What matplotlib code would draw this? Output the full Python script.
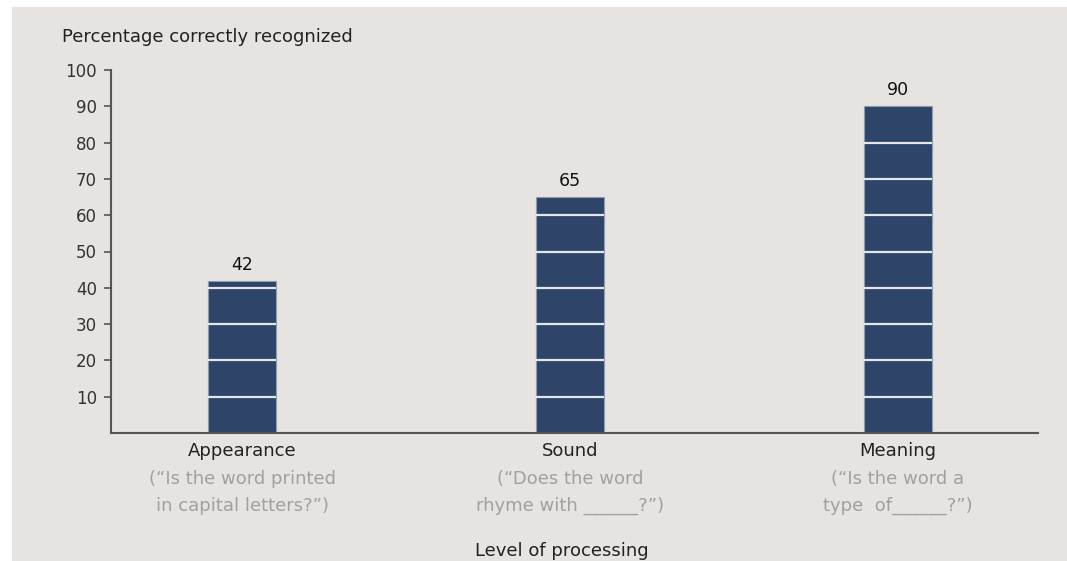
import matplotlib
matplotlib.use("Agg")
import matplotlib.pyplot as plt
import matplotlib.transforms as mtransforms
from matplotlib.patches import Rectangle

categories = ["Appearance", "Sound", "Meaning"]
values = [42, 65, 90]
sub_line1 = ["(\u201cIs the word printed", "(\u201cDoes the word", "(\u201cIs the word a"]
sub_line2 = ["in capital letters?\u201d)", "rhyme with ______?\u201d)", "type  of______?\u201d)"]
yticks = [10, 20, 30, 40, 50, 60, 70, 80, 90, 100]
y_label = "Percentage correctly recognized"
x_label = "Level of processing"

BG = "#e7e3e0"
BAR = "#2e4569"
W, H = 1067, 561
FS = 13

plt.rcParams['font.family'] = ['DejaVu Sans']
fig = plt.figure(figsize=(W / 100, H / 100), dpi=100)
fig.patch.set_facecolor("white")
fig.add_artist(Rectangle((12 / W, 0), 1 - 12 / W, 1 - 7 / H, transform=fig.transFigure,
                         facecolor=BG, edgecolor="none", zorder=0))

ax = fig.add_axes([111 / W, 1 - 433 / H, (1038 - 111) / W, (433 - 70) / H])
ax.set_facecolor("none")
x = list(range(len(categories)))
bw = 0.207
ax.bar(x, values, width=bw, color=BAR, edgecolor="#8d99ad", linewidth=0.8, zorder=2)
for xi, v in zip(x, values):
    lv = [t for t in yticks if t < v]
    ax.hlines(lv, xi - bw / 2, xi + bw / 2, colors="#e4e6ea", linewidth=1.6, zorder=3)
    ax.annotate(str(v), (xi, v), xytext=(0, 5), textcoords="offset points",
                ha="center", va="bottom", fontsize=12.5, color="#111111")

ax.set_xlim(-0.40, 2.427)
ax.set_ylim(0, 100)
ax.set_yticks(yticks)
ax.set_yticklabels([str(t) for t in yticks], fontsize=12, color="#333333")
ax.set_xticks([])
for s in ["top", "right"]:
    ax.spines[s].set_visible(False)
for s in ["left", "bottom"]:
    ax.spines[s].set_color("#555555")
    ax.spines[s].set_linewidth(1.5)
ax.tick_params(axis="y", length=5, width=1.2, color="#555555", pad=5)

tr = mtransforms.blended_transform_factory(ax.transData, fig.transFigure)
for xi, c, s1, s2 in zip(x, categories, sub_line1, sub_line2):
    fig.text(xi, 1 - 451 / H, c, transform=tr, ha="center", va="center",
             fontsize=FS, color="#222222")
    fig.text(xi, 1 - 479 / H, s1, transform=tr, ha="center", va="center",
             fontsize=FS, color="#a0a0a0")
    fig.text(xi, 1 - 506 / H, s2, transform=tr, ha="center", va="center",
             fontsize=FS, color="#a0a0a0")

fig.text(62 / W, 1 - 37 / H, y_label, ha="left", va="center", fontsize=FS, color="#222222")
fig.text(562 / W, 1 - 551 / H, x_label, ha="center", va="center", fontsize=FS, color="#222222")

fig.savefig("out.png", dpi=100)
